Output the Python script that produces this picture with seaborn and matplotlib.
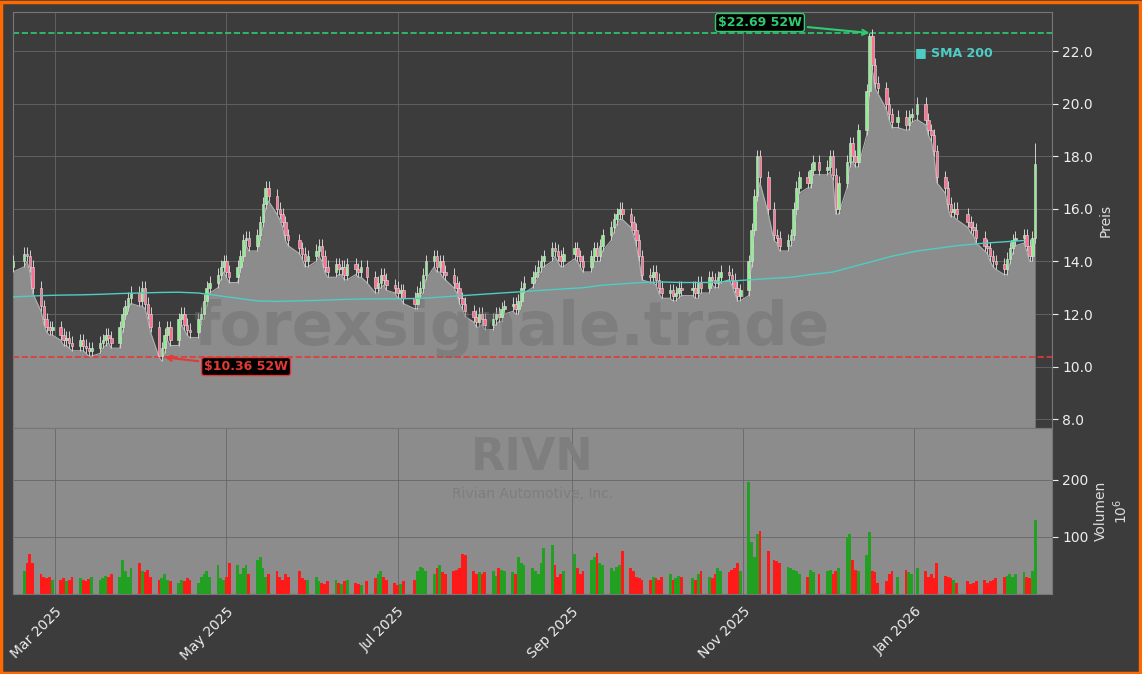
import numpy as np, pandas as pd
import matplotlib
matplotlib.use("Agg")
import matplotlib.pyplot as plt
import matplotlib.dates as mdates
import seaborn as sns

closes = [14.0,14.3,14.2,13.8,13.0,12.3,11.8,11.5,11.4,11.5,
 11.2,11.0,11.1,10.9,10.8,11.0,10.8,10.7,10.6,10.7,10.9,11.0,11.2,11.1,10.9,11.5,12.0,12.3,12.6,12.8,12.5,
 13.0,12.4,12.0,11.5,10.4,10.7,11.2,11.5,11.0,11.8,12.0,11.6,11.4,11.3,11.8,12.0,12.5,13.0,13.2,13.5,13.8,
 14.0,13.6,13.4,13.8,14.2,14.8,14.9,14.6,15.0,15.5,16.2,16.8,16.5,16.0,15.8,15.5,15.0,14.8,14.5,14.3,14.0,
 14.2,14.4,14.6,14.2,13.8,13.6,13.9,13.7,13.8,13.5,13.9,13.7,13.6,13.8,13.4,13.0,13.2,13.5,13.3,13.1,
 13.0,12.8,12.9,12.6,12.4,12.8,13.0,13.5,14.0,14.2,13.8,14.0,13.6,13.5,13.2,13.0,12.6,12.4,12.1,11.9,11.7,12.0,
 11.8,11.6,11.8,12.0,11.9,12.2,12.3,12.4,12.2,12.5,13.0,13.2,13.4,13.6,13.8,14.0,14.2,14.5,14.4,14.2,14.0,
 14.3,14.5,14.2,14.0,13.8,14.2,14.5,14.2,14.6,15.0,15.3,15.6,15.8,16.0,15.8,15.5,15.2,14.8,14.2,13.5,13.4,
 13.6,13.3,13.0,12.8,12.9,12.7,12.8,13.0,12.9,13.0,12.8,13.2,13.0,13.4,13.3,13.2,13.4,13.6,13.5,13.3,13.0,12.7,12.9,
 14.0,15.2,16.5,18.0,17.2,16.0,15.0,14.9,14.6,14.8,15.0,16.0,16.8,17.2,17.0,17.5,17.8,17.5,17.6,18.0,
 17.3,16.0,17.0,17.8,18.5,18.0,17.8,19.0,20.5,22.6,21.5,20.8,20.6,20.0,19.6,19.3,19.5,19.2,19.5,19.6,20.0,19.4,
 19.0,18.8,18.2,17.2,16.8,16.2,15.9,16.0,15.8,15.5,15.3,15.2,14.9,14.6,14.5,14.2,14.0,13.9,13.7,14.1,14.5,14.8,
 14.9,15.0,14.6,14.2,14.9,17.7]
volumes = [30,40,55,70,55,35,30,28,30,25,
 25,28,22,25,30,28,25,22,26,30,25,28,32,30,35,30,60,40,30,45,55,
 40,38,42,30,25,28,35,25,22,20,25,22,28,25,20,30,35,40,30,50,28,
 25,30,55,50,35,45,50,35,60,65,45,30,35,40,30,25,35,30,40,28,25,
 25,30,22,20,18,22,25,20,18,22,25,20,18,15,22,28,35,40,30,25,
 20,15,18,22,25,40,48,45,40,35,45,50,38,35,40,42,45,70,68,40,35,38,
 35,38,40,32,45,42,40,38,35,65,55,50,45,40,35,55,80,85,50,30,35,
 40,70,45,35,40,60,65,72,55,50,45,40,48,50,75,45,40,30,28,25,25,
 30,28,25,30,35,25,28,32,30,28,25,35,40,30,28,35,45,40,38,42,45,55,40,
 195,90,65,105,110,75,60,58,55,48,45,42,40,35,30,42,38,35,40,42,
 35,40,45,100,105,60,42,40,68,108,40,38,20,22,35,40,30,42,38,35,45,40,
 30,35,28,55,32,30,28,25,20,22,18,20,22,24,20,22,25,28,30,32,35,30,
 35,38,30,28,40,130]
sma200 = [12.65,12.7,12.72,12.73,12.75,12.78,12.8,12.82,12.83,12.8,12.7,12.6,12.5,12.48,12.5,12.52,12.55,12.57,12.58,12.58,
 12.6,12.65,12.7,12.75,12.8,12.85,12.9,12.95,13.0,13.1,13.15,13.2,13.22,13.2,13.2,13.25,13.3,13.35,13.4,13.5,
 13.6,13.8,14.0,14.2,14.4,14.5,14.6,14.7,14.75,14.8]
high52, low52 = 22.69, 10.36
ticker, company = "RIVN", "Rivian Automotive, Inc."

from pandas.tseries.holiday import USFederalHolidayCalendar
from pandas.tseries.offsets import CustomBusinessDay
dates = pd.date_range("2025-02-14", periods=len(closes), freq=CustomBusinessDay(calendar=USFederalHolidayCalendar()))
c = np.array(closes); o = np.r_[c[0] - 0.2, c[:-1]]
hi = np.maximum(o, c) + 0.25; lo = np.minimum(o, c) - 0.2
hi[np.argmax(c)] = high52; lo[np.argmin(c)] = low52; hi[-1] = 18.5
df = pd.DataFrame({"date": dates, "open": o, "close": c, "high": hi, "low": lo, "vol": volumes})
df["up"] = df.close >= df.open
sdf = pd.DataFrame({"date": dates[::5][:len(sma200)], "sma": sma200})

sns.set_style("dark")
plt.rcParams['font.family'] = ['DejaVu Sans']
bg = "#3c3c3c"
fig = plt.figure(figsize=(11.42, 6.74), dpi=100, facecolor=bg)
W, H = 1142, 674
ax = fig.add_axes([13/W, 1-428/H, (1052-13)/W, (428-12)/H], facecolor=bg)
axv = fig.add_axes([13/W, 1-594/H, (1052-13)/W, (594-428)/H], facecolor="#8c8c8c", sharex=ax)
fig.patches.append(matplotlib.patches.Rectangle((0.001, 0.002), 0.997, 0.995, transform=fig.transFigure,
    fill=False, ec="#ff6a00", lw=2.5))

ax.fill_between(df.date, df.low, 0, color="#8c8c8c", lw=0)
ax.plot(df.date, df.low, color="#b0b0b0", lw=0.8)
for _, r in df.iterrows():
    col = "#90ee90" if r.up else "#ff6f91"
    ax.vlines(r.date, r.low, r.high, color="#d0d0d0", lw=0.7, zorder=3)
    ax.bar(r.date, max(abs(r.close - r.open), 0.03), bottom=min(r.open, r.close), width=0.9,
           color=col, ec="#e0e0e0", lw=0.4, zorder=4)
sns.lineplot(data=sdf, x="date", y="sma", ax=ax, color="#4ecdc4", lw=1, zorder=5)
ax.axhline(high52, color="#2ecc71", ls="--", lw=1.2)
ax.axhline(low52, color="#e53935", ls="--", lw=1.2)
imax, imin = int(np.argmax(hi)), int(np.argmin(lo))
ax.annotate(f"${high52:.2f} 52W", xy=(dates[imax], high52), xytext=(dates[imax] - pd.Timedelta(days=40), 23.1),
    color="#2ecc71", fontsize=9, fontweight="bold", ha="center", va="center",
    bbox=dict(boxstyle="round,pad=0.2", fc="black", ec="#2ecc71"), arrowprops=dict(arrowstyle="->", color="#2ecc71", lw=1.5))
ax.annotate(f"${low52:.2f} 52W", xy=(dates[imin], low52), xytext=(dates[imin] + pd.Timedelta(days=30), 10.0),
    color="#e53935", fontsize=9, fontweight="bold", ha="center", va="center",
    bbox=dict(boxstyle="round,pad=0.2", fc="black", ec="#e53935"), arrowprops=dict(arrowstyle="->", color="#e53935", lw=1.5))
ax.text(0.48, 0.24, "forexsignale.trade", transform=ax.transAxes, ha="center", va="center",
        fontsize=44, fontweight="bold", color="#6e6e6e", alpha=0.45)
ax.text(0.868, 0.895, "■ SMA 200", transform=ax.transAxes, color="#4ecdc4", fontsize=9, fontweight="bold")
ax.set_ylim(7.66, 23.5)
ax.set_xlim(pd.Timestamp("2025-02-14"), pd.Timestamp("2026-02-19"))
ax.yaxis.tick_right(); ax.yaxis.set_label_position("right")
ax.set_yticks([8, 10, 12, 14, 16, 18, 20, 22])
ax.yaxis.set_major_formatter(matplotlib.ticker.FormatStrFormatter("%.1f"))
ax.set_ylabel("Preis", color="#dddddd")
for a in (ax, axv):
    a.grid(True, color="#666666", lw=0.6)
    a.tick_params(colors="#eeeeee", labelsize=10, direction="out", length=4, left=False, right=True)
    for s in a.spines.values():
        s.set_color("#777777")
ax.tick_params(labelbottom=False, bottom=False)

cols = ["#22a022" if u else "#ff1a1a" for u in df.up]
axv.bar(df.date, df.vol, width=1.0, color=cols, ec="none", lw=0)
axv.text(0.5, 0.82, ticker, transform=axv.transAxes, ha="center", va="center", fontsize=32, fontweight="bold", color="#7e7e7e")
axv.text(0.5, 0.6, company, transform=axv.transAxes, ha="center", va="center", fontsize=10, color="#7e7e7e")
axv.set_ylim(0, 290)
axv.yaxis.tick_right(); axv.yaxis.set_label_position("right")
axv.set_yticks([100, 200])
axv.set_ylabel("Volumen\n$10^6$", color="#dddddd")
axv.xaxis.set_major_locator(mdates.MonthLocator(bymonth=[1, 3, 5, 7, 9, 11]))
axv.xaxis.set_major_formatter(mdates.DateFormatter("%b %Y"))
plt.setp(axv.get_xticklabels(), rotation=45, ha="right", rotation_mode="anchor")
axv.set_xlabel("")
fig.savefig("out.png", dpi=100, facecolor=bg)
